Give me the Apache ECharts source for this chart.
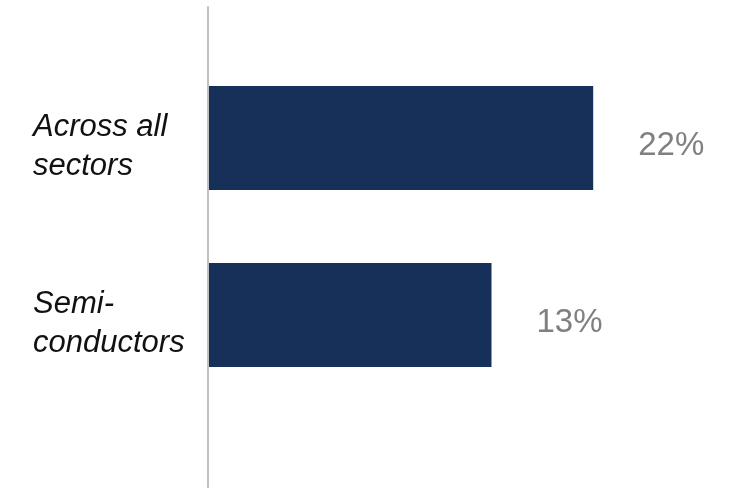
<!DOCTYPE html>
<html>
<head>
<meta charset="utf-8">
<script src="https://cdn.jsdelivr.net/npm/echarts@6/dist/echarts.min.js"></script>
<style>
html,body{margin:0;padding:0;background:#fff;}
#chart{width:730px;height:488px;}
</style>
</head>
<body>
<div id="chart"></div>
<script>
// Data
const categories = ['Across all\nsectors', 'Semi-\nconductors'];
const values = [22, 13];            // percent
const axisStart = -12;               // truncated value-axis start (bars grow from here)
const axisEnd = 28;

const FONT = '"Liberation Sans", Arial, Helvetica, sans-serif';
const chart = echarts.init(document.getElementById('chart'), null, {renderer: 'canvas'});

chart.setOption({
  animation: false,
  backgroundColor: '#ffffff',
  grid: [
    {left: 209, right: 69, top: 49.5, height: 354},
    {left: 208, right: 69, top: 7, bottom: 0}
  ],
  xAxis: [
    {gridIndex: 0, type: 'value', min: axisStart, max: axisEnd, show: false},
    {gridIndex: 1, type: 'value', min: 0, max: 1, show: false}
  ],
  yAxis: [
    {
      gridIndex: 0, type: 'category', inverse: true, data: categories,
      axisLine: {show: false}, axisTick: {show: false}, splitLine: {show: false},
      axisLabel: {
        align: 'left', margin: 176,
        formatter: function (v) { return '{t|' + v.split('\n').join('}\n{t|') + '}'; },
        rich: {
          t: {
            fontFamily: FONT, fontStyle: 'italic', fontSize: 31, lineHeight: 39,
            color: '#111111', padding: [18, 0, 0, 0]
          }
        }
      }
    },
    {
      gridIndex: 1, type: 'category', data: [''],
      axisLine: {show: true, lineStyle: {color: '#c0c0c0', width: 2}},
      axisTick: {show: false}, axisLabel: {show: false}, splitLine: {show: false}
    }
  ],
  series: [{
    type: 'custom',
    xAxisIndex: 0, yAxisIndex: 0,
    encode: {x: 0, y: 1},
    data: values.map((v, i) => [v, i]),
    renderItem: function (params, api) {
      const idx = api.value(1);
      const start = api.coord([axisStart, idx]);
      const end = api.coord([api.value(0), idx]);
      const h = api.size([0, 1])[1] * 0.588;
      return {
        type: 'group',
        children: [
          {
            type: 'rect',
            shape: {x: start[0], y: start[1] - h / 2, width: end[0] - start[0], height: h},
            style: {fill: '#17305a'}
          },
          {
            type: 'text',
            style: {
              text: api.value(0) + '%', x: end[0] + 45, y: end[1] + 8,
              verticalAlign: 'middle', align: 'left',
              fill: '#808080', fontSize: 33, fontFamily: FONT
            }
          }
        ]
      };
    }
  }]
});
</script>
</body>
</html>
